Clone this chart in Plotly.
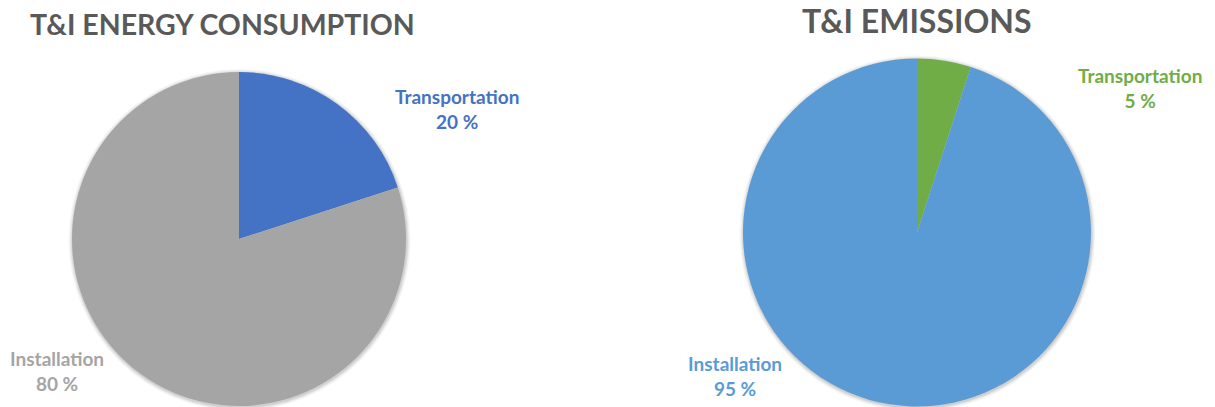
import plotly.graph_objects as go

# Data
categories = ["Transportation", "Installation"]
energy_share = [20, 80]
emissions_share = [5, 95]

energy_colors = ["#4472C4", "#A5A5A5"]
emissions_colors = ["#70AD47", "#5B9BD5"]

W, H = 1215, 407
FONT = "Lato"


def px_domain(cx, cy, r):
    """Pie domain (paper coords) for a circle centred at pixel (cx, cy) with radius r."""
    return dict(x=[max(0, (cx - r) / W), min(1, (cx + r) / W)],
                y=[max(0, 1 - (cy + r) / H), min(1, 1 - (cy - r) / H)])


fig = go.Figure()

pies = [
    (energy_share, energy_colors, (239, 239, 167)),
    (emissions_share, emissions_colors, (917, 232.5, 174)),
]

for values, colors, (cx, cy, r) in pies:
    # soft drop shadow under the pie
    for k, a in [(4, 0.03), (3, 0.04), (2, 0.05), (1, 0.07)]:
        fig.add_shape(
            type="circle", xref="paper", yref="paper", layer="below",
            x0=(cx + 0.5 - r - k) / W, x1=(cx + 0.5 + r + k) / W,
            y0=1 - (cy + 1 + r + k) / H, y1=1 - (cy + 1 - r - k) / H,
            fillcolor=f"rgba(0,0,0,{a})", line=dict(width=0),
        )
    fig.add_trace(go.Pie(
        labels=categories, values=values,
        marker=dict(colors=colors, line=dict(width=0)),
        domain=px_domain(cx, cy, r),
        sort=False, direction="clockwise", rotation=0,
        textinfo="none", showlegend=False,
    ))

# Category labels with percentages (pixel centre of each two-line block)
label_pos = [
    (energy_share, energy_colors, [(457, 109), (57, 370.5)]),
    (emissions_share, emissions_colors, [(1140, 88), (735, 376)]),
]
for values, colors, positions in label_pos:
    for name, v, c, (x, y) in zip(categories, values, colors, positions):
        fig.add_annotation(
            x=x / W, y=1 - y / H, xref="paper", yref="paper",
            xanchor="center", yanchor="middle", showarrow=False,
            text=f"<b>{name}</b><br><b>{v} %</b>", align="center",
            font=dict(family=FONT, size=19, color=c),
        )

# Titles
fig.add_annotation(x=28 / W, y=1 - 5 / H, xref="paper", yref="paper",
                   xanchor="left", yanchor="top", showarrow=False,
                   text="<b>T&I ENERGY CONSUMPTION</b>",
                   font=dict(family=FONT, size=28.5, color="#595959"))
fig.add_annotation(x=917 / W, y=1.0, xref="paper", yref="paper",
                   xanchor="center", yanchor="top", showarrow=False,
                   borderpad=0,
                   text="<b>T&I EMISSIONS</b>",
                   font=dict(family=FONT, size=32, color="#595959"))

fig.update_layout(
    width=W, height=H,
    margin=dict(l=0, r=0, t=0, b=0),
    paper_bgcolor="white", plot_bgcolor="white",
)

fig.write_html("out.html", config={"displayModeBar": False})
